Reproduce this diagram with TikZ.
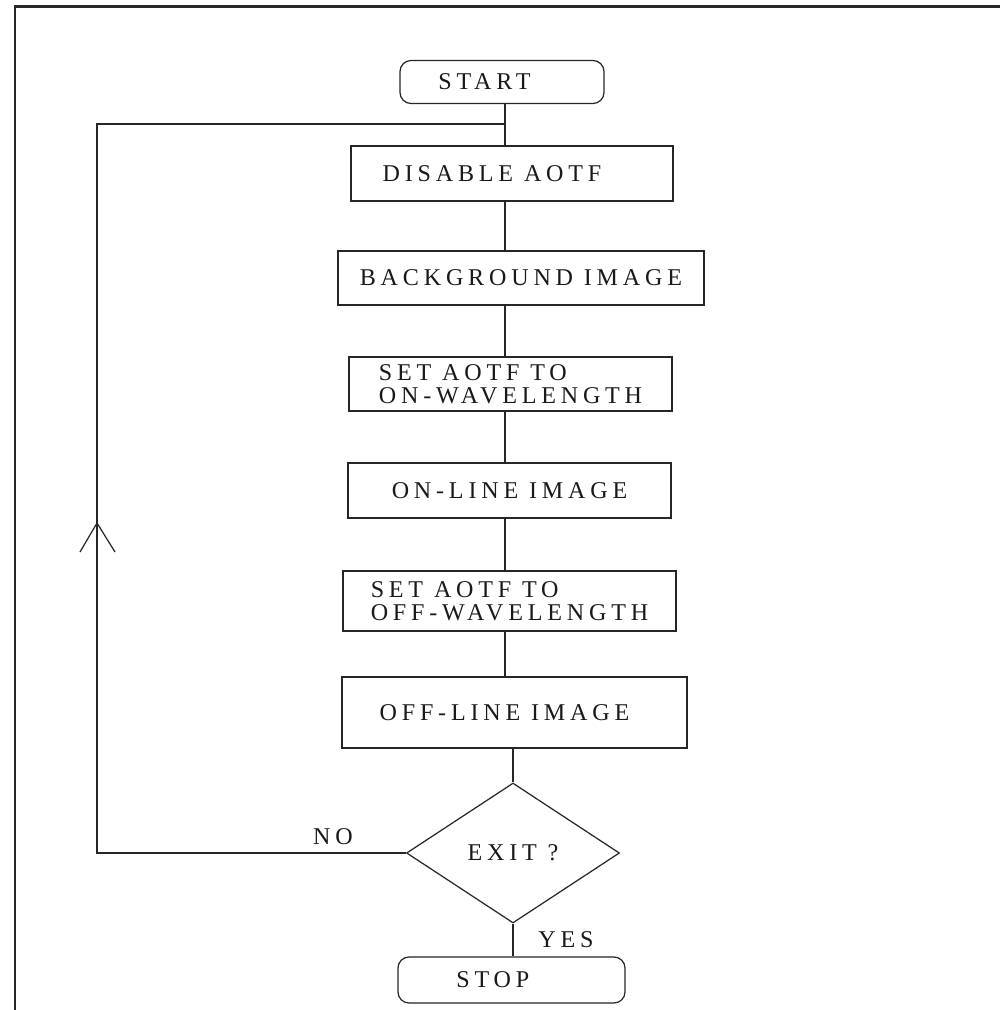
\documentclass[tikz,border=0pt]{standalone}
\usepackage{fontspec}
\newfontfamily\flowfont[LetterSpace=20]{Liberation Serif}
\usetikzlibrary{shapes, arrows, positioning, calc}

\tikzset{
  flow/.style={draw=black!85, line width=0.7pt},
  procbox/.style={rectangle, draw=black!85, line width=0.7pt, text=black!90,
    font=\flowfont\fontsize{13.7}{13.2}\selectfont, inner sep=0pt},
  termbox/.style={procbox, rounded corners=0.22cm},
  decbox/.style={procbox, diamond},
  framel/.style={draw=black!85, line width=1.6pt},
  tag/.style={text=black!90, font=\flowfont\fontsize{13.7}{13.2}\selectfont}
}

\begin{document}
\begin{tikzpicture}
      \useasboundingbox (0,0) rectangle (20,-20.2);
      \draw[framel] (0.3,-20.2) -- (0.3,-0.13) -- (20,-0.13);

      \coordinate (spine) at (10.1,0);
      \coordinate (looppt) at (1.94,-2.48);
      \coordinate (uptip) at (1.94,-10.46);

      \node[termbox, minimum width=4.08cm, minimum height=0.86cm] (start) at (10.04,-1.64) {\hspace*{-0.7cm}START};
      \node[procbox, minimum width=6.44cm, minimum height=1.1cm] (disable) at (10.24,-3.47) {\hspace*{-0.8cm}DISABLE AOTF};
      \node[procbox, minimum width=7.32cm, minimum height=1.08cm] (backgr) at (10.42,-5.56) {BACKGROUND IMAGE};
      \node[procbox, minimum width=6.46cm, minimum height=1.08cm, align=left] (seton) at (10.21,-7.68) {SET AOTF TO\\ON-WAVELENGTH};
      \node[procbox, minimum width=6.46cm, minimum height=1.1cm] (online) at (10.19,-9.81) {ON-LINE IMAGE};
      \node[procbox, minimum width=6.66cm, minimum height=1.2cm, align=left] (setoff) at (10.19,-12.02) {SET AOTF TO\\OFF-WAVELENGTH};
      \node[procbox, minimum width=6.9cm, minimum height=1.42cm] (offline) at (10.29,-14.25) {\hspace*{-0.4cm}OFF-LINE IMAGE};
      \node[decbox, minimum width=4.26cm, minimum height=2.8cm] (exit) at (10.26,-17.06) {EXIT ?};
      \node[termbox, minimum width=4.54cm, minimum height=0.92cm] (stop) at (10.23,-19.6) {\hspace*{-0.75cm}STOP};

      \draw[flow] (start.south -| spine) -- (disable.north -| spine);
      \draw[flow] (disable.south -| spine) -- (backgr.north -| spine);
      \draw[flow] (backgr.south -| spine) -- (seton.north -| spine);
      \draw[flow] (seton.south -| spine) -- (online.north -| spine);
      \draw[flow] (online.south -| spine) -- (setoff.north -| spine);
      \draw[flow] (setoff.south -| spine) -- (offline.north -| spine);
      \draw[flow] (offline.south -| exit.north) -- (exit.north);
      \draw[flow] (exit.south) -- (exit.south |- stop.north);

      \draw[flow] (exit.west) -| (looppt) -- (looppt -| spine);
      \draw[flow] ($(uptip)+(-0.34,-0.58)$) -- (uptip) -- ($(uptip)+(0.36,-0.58)$);

      \node[tag] (no) at (6.66,-16.74) {NO};
      \node[tag] (yes) at (11.32,-18.8) {YES};
\end{tikzpicture}
\end{document}
